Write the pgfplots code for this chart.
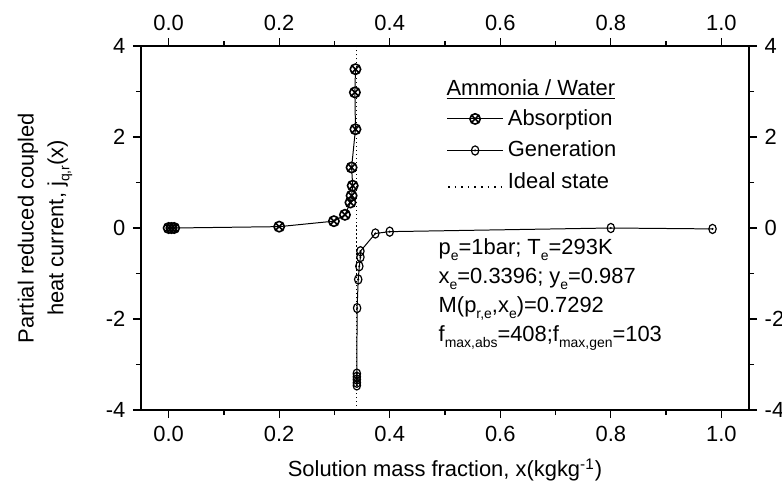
\documentclass[border=0pt]{standalone}
\usepackage{fontspec}
\setmainfont{Liberation Sans}
\usepackage{pgfplots}
\pgfplotsset{compat=1.18}
\usetikzlibrary{plotmarks}
\newcommand\sub[1]{\raisebox{-0.5ex}{\fontsize{7}{8}\selectfont #1}}
\pgfdeclareplotmark{odotell}{%
  \pgfpathellipse{\pgfpointorigin}{\pgfqpoint{0.8\pgfplotmarksize}{0pt}}{\pgfqpoint{0pt}{\pgfplotmarksize}}\pgfusepathqstroke
  \pgfpathcircle{\pgfpointorigin}{0.25\pgfplotmarksize}\pgfusepathqfill}
\begin{document}
\begin{tikzpicture}
\fontsize{11}{13}\selectfont
\pgfplotsset{common/.style={
  width=304bp, height=182bp, scale only axis,
  xmin=-0.05, xmax=1.05, ymin=-4, ymax=4,
  xtick={0,0.2,0.4,0.6,0.8,1.0}, xticklabels={0.0,0.2,0.4,0.6,0.8,1.0},
  ytick={-4,-2,0,2,4}, yticklabels={-4,-2,0,2,4},
  minor x tick num=1, minor y tick num=1,
  tick align=outside, major tick length=4bp, minor tick length=2.5bp,
  tick style={black, line width=0.6pt},
  axis line style={line width=0.7pt},
  ticklabel style={font=\fontsize{11}{13}\selectfont},
}}
\begin{axis}[common, name=ax,
  xtick pos=bottom, ytick pos=left,
  xlabel={Solution mass fraction, x(kgkg\textsuperscript{-1})},
  xlabel style={font=\fontsize{11}{13}\selectfont, at={(axis description cs:0.5,0)}, anchor=center, yshift=-30bp},
  ylabel={Partial reduced coupled\\heat current, j\sub{q,r}(x)},
  ylabel style={font=\fontsize{11}{15}\selectfont, align=center, at={(axis description cs:-0.158,0.5)}, anchor=center, rotate=0},
  legend style={draw=none, fill=none, at={(rel axis cs:0.502,0.838)}, anchor=north west,
     font=\fontsize{11}{13}\selectfont, row sep=2.2bp, inner sep=0pt},
  legend cell align=left,
  legend image code/.code={\draw[mark repeat=2,mark phase=2,#1] plot coordinates {(0bp,0bp) (14bp,0bp) (28bp,0bp)};},
]
\addplot[black, line width=0.5pt, mark=otimes, mark size=2.6bp, mark options={solid, line width=0.8pt}] coordinates {
 (0.338,3.49) (0.337,2.98) (0.338,2.17) (0.331,1.33) (0.333,0.93) (0.331,0.71) (0.329,0.56)
 (0.319,0.29) (0.299,0.15) (0.2,0.03) (0.01,0.0) (0.005,0.0) (0.0,0.0)
};
\addlegendentry{Absorption}
\addplot[black, line width=0.5pt, mark=odotell, mark size=2.3bp, mark options={solid, line width=0.6pt}] coordinates {
 (0.3405,-3.46) (0.3405,-3.40) (0.3405,-3.33) (0.3405,-3.27) (0.3405,-3.20)
 (0.341,-1.76) (0.343,-1.13) (0.345,-0.84) (0.347,-0.64) (0.347,-0.51)
 (0.374,-0.12) (0.40,-0.08) (0.80,0.0) (0.984,-0.02)
};
\addlegendentry{Generation}
\addplot[black, line width=0.6pt, dash pattern=on 0.6pt off 1.4pt,
  legend image code/.code={\draw[black, line width=0.8pt, dash pattern=on 0.8pt off 2.5pt] (0.5bp,-2.5bp) -- (28bp,-2.5bp);}]
  coordinates {(0.3396,-4) (0.3396,4)};
\addlegendentry{Ideal state}
\node[anchor=base west, inner sep=0pt] at (rel axis cs:0.502,0.863) {\underline{Ammonia / Water}};
\node[anchor=base west, inner sep=0pt, align=left, font=\fontsize{11}{14.5}\selectfont] at (rel axis cs:0.489,0.188)
 {p\sub{e}=1bar; T\sub{e}=293K\\x\sub{e}=0.3396; y\sub{e}=0.987\\M(p\sub{r,e},x\sub{e})=0.7292\\f\sub{max,abs}=408;f\sub{max,gen}=103};
\end{axis}
\begin{axis}[common, axis x line*=top, axis y line*=right]
\end{axis}
\pgfresetboundingbox
\path ([shift={(-70.5bp,-42bp)}]ax.south west) rectangle ([shift={(16.5bp,23bp)}]ax.north east);
\end{tikzpicture}
\end{document}
